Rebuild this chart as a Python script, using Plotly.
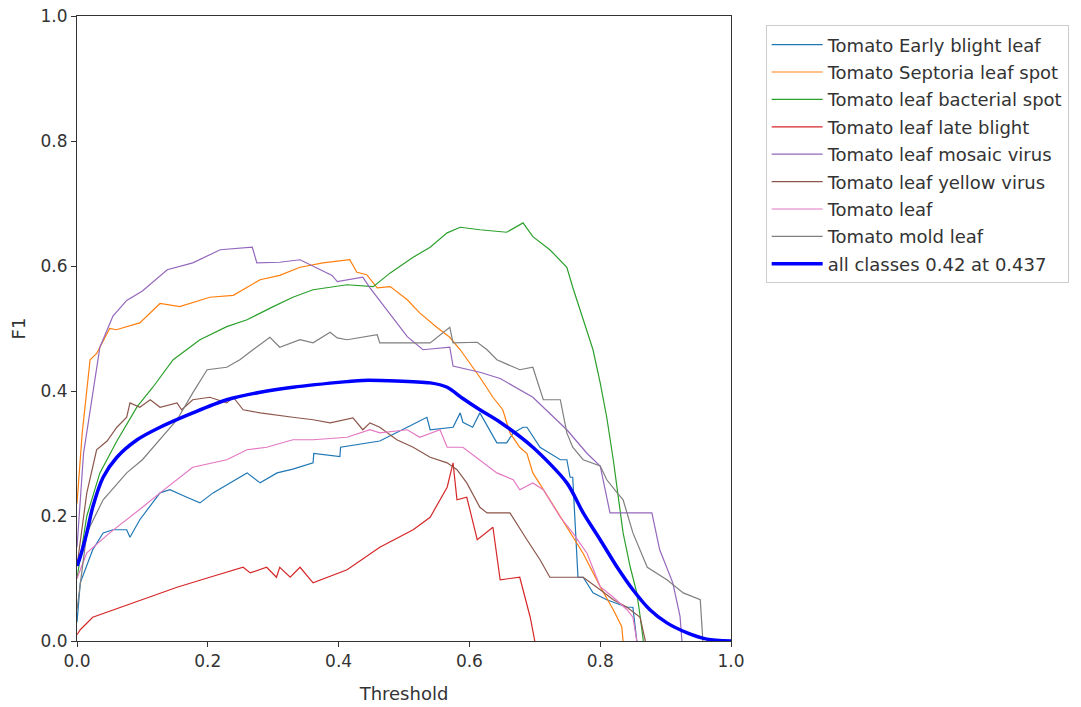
import plotly.graph_objects as go

# F1 vs confidence threshold, one curve per class plus the all-classes mean
early_blight_x = [0.0, 0.005, 0.024, 0.04, 0.055, 0.076, 0.081, 0.096, 0.127, 0.142, 0.168, 0.188, 0.208, 0.26, 0.28, 0.306, 0.33, 0.361, 0.362, 0.402, 0.403, 0.463, 0.505, 0.535, 0.54, 0.575, 0.586, 0.59, 0.605, 0.616, 0.642, 0.657, 0.667, 0.682, 0.688, 0.708, 0.739, 0.749, 0.754, 0.758, 0.766, 0.774, 0.789, 0.81, 0.841, 0.85, 0.856]
early_blight_y = [0.03, 0.093, 0.146, 0.173, 0.178, 0.178, 0.166, 0.194, 0.237, 0.242, 0.23, 0.221, 0.237, 0.269, 0.253, 0.269, 0.275, 0.285, 0.30, 0.295, 0.31, 0.32, 0.342, 0.358, 0.338, 0.342, 0.365, 0.35, 0.342, 0.365, 0.317, 0.317, 0.333, 0.342, 0.342, 0.31, 0.29, 0.29, 0.262, 0.262, 0.102, 0.102, 0.077, 0.066, 0.054, 0.054, 0.0]

septoria_x = [0.0, 0.008, 0.02, 0.03, 0.05, 0.06, 0.096, 0.127, 0.157, 0.203, 0.239, 0.28, 0.31, 0.341, 0.376, 0.417, 0.428, 0.443, 0.459, 0.479, 0.505, 0.524, 0.55, 0.57, 0.586, 0.601, 0.616, 0.636, 0.651, 0.662, 0.677, 0.688, 0.697, 0.723, 0.749, 0.774, 0.80, 0.82, 0.833, 0.835]
septoria_y = [0.22, 0.333, 0.45, 0.46, 0.50, 0.498, 0.509, 0.54, 0.535, 0.55, 0.553, 0.578, 0.585, 0.598, 0.605, 0.61, 0.59, 0.586, 0.565, 0.567, 0.546, 0.525, 0.502, 0.486, 0.466, 0.445, 0.422, 0.39, 0.37, 0.333, 0.31, 0.30, 0.269, 0.226, 0.182, 0.14, 0.087, 0.05, 0.023, 0.0]

bacterial_x = [0.0, 0.015, 0.035, 0.061, 0.092, 0.116, 0.147, 0.188, 0.229, 0.26, 0.30, 0.33, 0.361, 0.413, 0.453, 0.479, 0.514, 0.54, 0.566, 0.586, 0.616, 0.657, 0.682, 0.697, 0.723, 0.749, 0.758, 0.774, 0.789, 0.80, 0.81, 0.82, 0.827, 0.835, 0.846, 0.856, 0.861, 0.866]
bacterial_y = [0.1, 0.2, 0.269, 0.32, 0.375, 0.406, 0.45, 0.482, 0.503, 0.514, 0.535, 0.55, 0.562, 0.57, 0.567, 0.589, 0.614, 0.63, 0.653, 0.662, 0.658, 0.654, 0.669, 0.647, 0.626, 0.598, 0.566, 0.514, 0.466, 0.413, 0.358, 0.29, 0.237, 0.173, 0.118, 0.077, 0.04, 0.0]

late_blight_x = [0.0, 0.005, 0.024, 0.066, 0.10, 0.153, 0.203, 0.254, 0.265, 0.29, 0.305, 0.31, 0.326, 0.341, 0.361, 0.413, 0.463, 0.514, 0.54, 0.566, 0.575, 0.581, 0.596, 0.612, 0.636, 0.647, 0.677, 0.693, 0.70]
late_blight_y = [0.01, 0.018, 0.038, 0.054, 0.066, 0.086, 0.102, 0.118, 0.109, 0.118, 0.102, 0.118, 0.102, 0.118, 0.093, 0.114, 0.15, 0.178, 0.198, 0.246, 0.285, 0.226, 0.23, 0.162, 0.182, 0.098, 0.102, 0.038, 0.0]

mosaic_x = [0.0, 0.01, 0.035, 0.055, 0.076, 0.10, 0.138, 0.177, 0.219, 0.268, 0.275, 0.31, 0.341, 0.39, 0.398, 0.437, 0.448, 0.474, 0.505, 0.529, 0.57, 0.575, 0.616, 0.647, 0.697, 0.749, 0.78, 0.80, 0.815, 0.879, 0.891, 0.911, 0.922, 0.925]
mosaic_y = [0.15, 0.3, 0.47, 0.52, 0.545, 0.56, 0.594, 0.605, 0.626, 0.63, 0.605, 0.606, 0.61, 0.585, 0.575, 0.582, 0.565, 0.53, 0.487, 0.466, 0.47, 0.44, 0.43, 0.42, 0.39, 0.338, 0.30, 0.28, 0.205, 0.205, 0.146, 0.093, 0.04, 0.0]

yellow_x = [0.0, 0.015, 0.03, 0.046, 0.061, 0.076, 0.081, 0.096, 0.112, 0.127, 0.153, 0.16, 0.177, 0.203, 0.229, 0.239, 0.254, 0.28, 0.33, 0.361, 0.387, 0.422, 0.437, 0.448, 0.463, 0.489, 0.514, 0.54, 0.566, 0.581, 0.596, 0.616, 0.627, 0.662, 0.688, 0.708, 0.723, 0.774, 0.80, 0.82, 0.841, 0.861, 0.869]
yellow_y = [0.12, 0.237, 0.306, 0.32, 0.342, 0.358, 0.381, 0.374, 0.386, 0.374, 0.381, 0.37, 0.386, 0.39, 0.381, 0.39, 0.37, 0.365, 0.358, 0.354, 0.349, 0.357, 0.338, 0.349, 0.342, 0.322, 0.31, 0.294, 0.285, 0.274, 0.253, 0.214, 0.205, 0.205, 0.162, 0.13, 0.102, 0.102, 0.082, 0.066, 0.054, 0.038, 0.0]

tomato_leaf_x = [0.0, 0.015, 0.05, 0.076, 0.10, 0.127, 0.153, 0.177, 0.229, 0.26, 0.29, 0.33, 0.361, 0.413, 0.448, 0.463, 0.505, 0.524, 0.555, 0.566, 0.59, 0.616, 0.642, 0.667, 0.677, 0.697, 0.713, 0.739, 0.758, 0.78, 0.80, 0.82, 0.841, 0.85, 0.856]
tomato_leaf_y = [0.1, 0.141, 0.173, 0.194, 0.214, 0.237, 0.258, 0.278, 0.29, 0.306, 0.31, 0.322, 0.322, 0.326, 0.338, 0.333, 0.338, 0.326, 0.338, 0.31, 0.31, 0.29, 0.269, 0.258, 0.242, 0.253, 0.242, 0.198, 0.173, 0.14, 0.087, 0.07, 0.05, 0.038, 0.0]

mold_x = [0.0, 0.015, 0.04, 0.076, 0.10, 0.127, 0.153, 0.177, 0.199, 0.229, 0.249, 0.269, 0.295, 0.31, 0.341, 0.361, 0.387, 0.398, 0.413, 0.459, 0.463, 0.514, 0.54, 0.57, 0.575, 0.612, 0.627, 0.642, 0.677, 0.697, 0.713, 0.739, 0.749, 0.758, 0.774, 0.80, 0.81, 0.826, 0.835, 0.85, 0.872, 0.902, 0.927, 0.953, 0.957]
mold_y = [0.05, 0.173, 0.226, 0.269, 0.29, 0.322, 0.354, 0.397, 0.434, 0.438, 0.45, 0.466, 0.486, 0.47, 0.482, 0.477, 0.494, 0.485, 0.482, 0.49, 0.477, 0.477, 0.477, 0.502, 0.477, 0.478, 0.466, 0.45, 0.434, 0.438, 0.386, 0.386, 0.333, 0.31, 0.29, 0.28, 0.258, 0.237, 0.226, 0.173, 0.118, 0.098, 0.077, 0.066, 0.0]

all_x = [0.0, 0.005, 0.015, 0.024, 0.04, 0.061, 0.092, 0.127, 0.177, 0.229, 0.28, 0.33, 0.413, 0.437, 0.54, 0.566, 0.59, 0.616, 0.647, 0.697, 0.749, 0.774, 0.80, 0.826, 0.85, 0.876, 0.902, 0.933, 0.963, 1.0]
all_y = [0.12, 0.135, 0.173, 0.214, 0.262, 0.294, 0.322, 0.342, 0.365, 0.386, 0.398, 0.406, 0.415, 0.417, 0.413, 0.406, 0.388, 0.37, 0.35, 0.31, 0.253, 0.205, 0.162, 0.118, 0.082, 0.05, 0.029, 0.013, 0.003, 0.0]

series = [
    ("Tomato Early blight leaf", early_blight_x, early_blight_y, "#1f77b4"),
    ("Tomato Septoria leaf spot", septoria_x, septoria_y, "#ff7f0e"),
    ("Tomato leaf bacterial spot", bacterial_x, bacterial_y, "#2ca02c"),
    ("Tomato leaf late blight", late_blight_x, late_blight_y, "#d62728"),
    ("Tomato leaf mosaic virus", mosaic_x, mosaic_y, "#9467bd"),
    ("Tomato leaf yellow virus", yellow_x, yellow_y, "#8c564b"),
    ("Tomato leaf", tomato_leaf_x, tomato_leaf_y, "#e377c2"),
    ("Tomato mold leaf", mold_x, mold_y, "#7f7f7f"),
]

fig = go.Figure()
for i, (name, xs, ys, color) in enumerate(series):
    fig.add_trace(go.Scatter(x=xs, y=ys, mode="lines", name=name, legendgroup=f"g{i}",
                             line=dict(color=color, width=1.2)))

fig.add_trace(go.Scatter(x=all_x, y=all_y, mode="lines", name="all classes 0.42 at 0.437",
                         legendgroup="all",
                         line=dict(color="#0000ff", width=3.5, shape="spline", smoothing=0.8)))

axis_common = dict(
    range=[0, 1], dtick=0.2, tickformat=".1f",
    showgrid=False, zeroline=False, automargin=False,
    showline=True, linecolor="#333", linewidth=1, mirror=True,
    ticks="outside", ticklen=5, tickcolor="#333",
    tickfont=dict(family="DejaVu Sans", size=17, color="#333"),
)

fig.update_layout(
    width=1081, height=707,
    margin=dict(l=77, r=350, t=16, b=66),
    paper_bgcolor="white", plot_bgcolor="white",
    font=dict(family="DejaVu Sans", color="#333"),
    xaxis=dict(title=dict(text="Threshold", font=dict(size=18), standoff=16), **axis_common),
    yaxis=dict(title=dict(text="F1", font=dict(size=18), standoff=10), **axis_common),
    legend=dict(
        x=1.053, y=0.985, xanchor="left", yanchor="top",
        bgcolor="white", bordercolor="#ccc", borderwidth=1,
        font=dict(family="DejaVu Sans", size=18, color="#333"),
        tracegroupgap=1, itemwidth=51,
    ),
)

fig.write_html("out.html")
